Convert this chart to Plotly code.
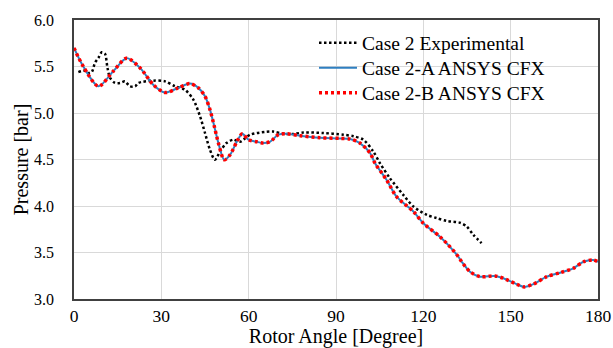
import plotly.graph_objects as go

# Case 2 Experimental
exp_angle = [1.5, 3.7, 4.9, 6.1, 7.2, 8.4, 9.5, 10.6, 11.5, 12.4, 14.1, 15.8, 17.5, 19.2, 21.0, 22.1,
             27.2, 31.3, 34.7, 38.1, 41.0, 43.3, 45.0, 46.7, 48.4, 50.2, 52.4, 54.7, 57.0, 60.5,
             65.6, 68.5, 71.9, 75.3, 78.8, 85.6, 92.5, 96.0, 99.4, 102.8, 105.1, 108.5, 113.1,
             116.6, 121.2, 124.6, 128.0, 132.6, 134.9, 137.2, 140.0]
exp_pressure = [5.44, 5.455, 5.43, 5.44, 5.54, 5.593, 5.653, 5.64, 5.485, 5.377, 5.323, 5.323, 5.34,
                5.287, 5.287, 5.323, 5.348, 5.34, 5.287, 5.25, 5.144, 4.964, 4.785, 4.605, 4.497,
                4.587, 4.677, 4.713, 4.69, 4.767, 4.796, 4.80, 4.777, 4.774, 4.79, 4.785, 4.767,
                4.75, 4.713, 4.587, 4.46, 4.30, 4.12, 3.994, 3.905, 3.87, 3.84, 3.82, 3.78, 3.69, 3.60]

# Case 2-A ANSYS CFX
cfd_a_angle = [0.0, 3.2, 8.4, 13.5, 18.1, 22.7, 27.2, 31.3, 35.8, 39.8, 42.7, 45.0, 46.7, 48.2, 49.6,
               51.6, 53.6, 55.9, 57.8, 59.9, 62.8, 65.0, 67.3, 70.2, 73.0, 77.6, 84.5, 91.4, 94.8,
               98.2, 101.7, 103.4, 107.4, 110.8, 116.6, 120.0, 125.7, 128.6, 132.0, 133.2, 136.0,
               139.5, 144.6, 147.5, 152.0, 154.6, 157.8, 162.4, 167.0, 171.5, 175.0, 178.4, 180.0]
cfd_a_pressure = [5.70, 5.50, 5.287, 5.45, 5.59, 5.485, 5.305, 5.22, 5.27, 5.316, 5.27, 5.18, 5.036,
                  4.856, 4.677, 4.497, 4.55, 4.69, 4.777, 4.713, 4.69, 4.677, 4.69, 4.767, 4.777,
                  4.756, 4.734, 4.727, 4.72, 4.677, 4.57, 4.46, 4.28, 4.10, 3.94, 3.815, 3.67, 3.58,
                  3.456, 3.40, 3.294, 3.24, 3.248, 3.223, 3.16, 3.13, 3.16, 3.24, 3.283, 3.33, 3.40,
                  3.42, 3.40]

# Case 2-B ANSYS CFX
cfd_b_angle = [0.0, 3.2, 8.4, 13.5, 18.1, 22.7, 27.2, 31.3, 35.8, 39.8, 42.7, 45.0, 46.7, 48.2, 49.6,
               51.6, 53.6, 55.9, 57.8, 59.9, 62.8, 65.0, 67.3, 70.2, 73.0, 77.6, 84.5, 91.4, 94.8,
               98.2, 101.7, 103.4, 107.4, 110.8, 116.6, 120.0, 125.7, 128.6, 132.0, 133.2, 136.0,
               139.5, 144.6, 147.5, 152.0, 154.6, 157.8, 162.4, 167.0, 171.5, 175.0, 178.4, 180.0]
cfd_b_pressure = [5.70, 5.50, 5.287, 5.45, 5.59, 5.485, 5.305, 5.22, 5.27, 5.316, 5.27, 5.18, 5.036,
                  4.856, 4.677, 4.497, 4.55, 4.69, 4.777, 4.713, 4.69, 4.677, 4.69, 4.767, 4.777,
                  4.756, 4.734, 4.727, 4.72, 4.677, 4.57, 4.46, 4.28, 4.10, 3.94, 3.815, 3.67, 3.58,
                  3.456, 3.40, 3.294, 3.24, 3.248, 3.223, 3.16, 3.13, 3.16, 3.24, 3.283, 3.33, 3.40,
                  3.42, 3.40]

x_ticks = [0, 30, 60, 90, 120, 150, 180]
y_ticks = [3.0, 3.5, 4.0, 4.5, 5.0, 5.5, 6.0]

FONT = "Liberation Serif, Times New Roman, serif"

fig = go.Figure()
fig.add_trace(go.Scatter(x=exp_angle, y=exp_pressure, mode="lines", name="Case 2 Experimental",
                         legend="legend",
                         line=dict(color="#000000", width=2.5, dash="2.5px,2.5px", shape="spline",
                                   smoothing=0.8)))
fig.add_trace(go.Scatter(x=cfd_a_angle, y=cfd_a_pressure, mode="lines", name="Case 2-A ANSYS CFX",
                         legend="legend2",
                         line=dict(color="#2F7FC1", width=2, shape="spline", smoothing=0.8)))
fig.add_trace(go.Scatter(x=cfd_b_angle, y=cfd_b_pressure, mode="lines", name="Case 2-B ANSYS CFX",
                         legend="legend3",
                         line=dict(color="#FF0000", width=3.5, dash="3px,3px", shape="spline",
                                   smoothing=0.8)))

fig.add_shape(type="rect", xref="paper", yref="paper", x0=0.342, x1=0.927, y0=0.692, y1=0.975,
              fillcolor="white", line=dict(width=0), layer="between")

leg_common = dict(x=0.458, xanchor="left", yanchor="middle", bgcolor="rgba(0,0,0,0)",
                  borderwidth=0, font=dict(size=19.5, family=FONT), itemwidth=38)

fig.update_layout(
    width=613, height=348,
    margin=dict(l=74, r=15, t=20, b=49),
    paper_bgcolor="white", plot_bgcolor="white",
    font=dict(family=FONT, color="#000000", size=16),
    showlegend=True,
    legend=dict(y=0.9176, **leg_common),
    legend2=dict(y=0.828, **leg_common),
    legend3=dict(y=0.738, **leg_common),
    xaxis=dict(range=[0, 180], tickvals=x_ticks, ticktext=[str(v) for v in x_ticks],
               showgrid=True, gridcolor="#D9D9D9", gridwidth=1, automargin=False,
               showline=True, linecolor="#404040", linewidth=1.5, mirror=True,
               ticks="", ticklabelstandoff=0, zeroline=False,
               tickfont=dict(size=17.5, family=FONT),
               title=dict(text="Rotor Angle [Degree]", font=dict(size=20, family=FONT), standoff=3)),
    yaxis=dict(range=[3, 6], tickvals=y_ticks, ticktext=["%.1f" % v for v in y_ticks],
               showgrid=True, gridcolor="#D9D9D9", gridwidth=1, automargin=False,
               showline=True, linecolor="#404040", linewidth=1.5, mirror=True,
               ticks="", ticklabelstandoff=15, zeroline=False,
               tickfont=dict(size=16, family=FONT),
               title=dict(text="Pressure [bar]", font=dict(size=20, family=FONT), standoff=0)),
)

fig.write_html("out.html", post_script="document.body.style.margin='0';",
               config={"displayModeBar": False})
